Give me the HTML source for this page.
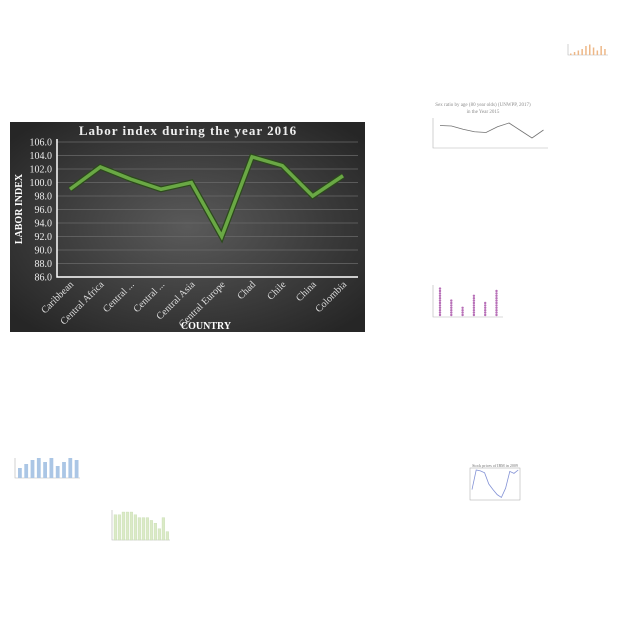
<!DOCTYPE html>
<html><head><meta charset="utf-8"><style>
html,body{margin:0;padding:0;background:#fff;width:640px;height:640px;overflow:hidden}
svg{display:block}
text{font-family:"Liberation Serif",serif}
</style></head><body>
<svg id="s" width="640" height="640" viewBox="0 0 640 640">
<defs>
<radialGradient id="bg" cx="50%" cy="50%" r="65%">
<stop offset="0" stop-color="#5a5a5a"/><stop offset="1" stop-color="#262626"/>
</radialGradient>
</defs>
<rect x="10" y="122" width="355" height="210" fill="url(#bg)"/>
<text x="188" y="135" text-anchor="middle" fill="#eee" font-size="13" font-weight="bold" letter-spacing="1">Labor index during the year 2016</text>
<text transform="translate(22,209) rotate(-90)" text-anchor="middle" fill="#fff" font-size="10" font-weight="bold">LABOR INDEX</text>
<text x="206" y="329" text-anchor="middle" fill="#fff" font-size="10" font-weight="bold">COUNTRY</text>
<g id="grid"></g><g id="main"></g><g id="thumbs" opacity="0.75"></g>
</svg>
<script>
const categories=["Caribbean","Central Africa","Central ...","Central ...","Central Asia","Central Europe","Chad","Chile","China","Colombia"];
const laborIndex=[99.0,102.3,100.5,99.0,100.0,92.0,103.8,102.5,98.0,101.0];
const yTicks=[86,88,90,92,94,96,98,100,102,104,106];

const NS="http://www.w3.org/2000/svg";
function mk(p,tag,a){const e=document.createElementNS(NS,tag);for(const k in a)e.setAttribute(k,a[k]);p.appendChild(e);return e;}
const X0=57,X1=358,Y0=277,Y1=142;
const yS=v=>Y0-(v-86)/(106-86)*(Y0-Y1);
const xS=i=>70+i*(343-70)/(categories.length-1);
const grid=document.getElementById('grid'),main=document.getElementById('main');
yTicks.forEach(t=>{
  if(t>86){const l=mk(grid,'line',{x1:X0,x2:X1,y1:yS(t),y2:yS(t),stroke:'#6a6a6a','stroke-width':0.8});
  
  }
  const tx=mk(grid,'text',{x:52,y:yS(t)+3.5,'text-anchor':'end',fill:'#eee','font-size':'10'});
  tx.textContent=t.toFixed(1);
  
  
});
let ax=mk(grid,'polyline',{points:`${X0},${Y1-3} ${X0},${Y0} ${X1},${Y0}`,fill:'none',stroke:'#fff','stroke-width':1.5});


categories.forEach((c,i)=>{
  const tx=mk(grid,'text',{transform:`translate(${xS(i)+4},${Y0+8}) rotate(-45)`,'text-anchor':'end',fill:'#ddd','font-size':'10'});
  tx.textContent=c;
  
  
});
const pts=laborIndex.map((v,i)=>xS(i)+','+yS(v)).join(' ');
let sh=mk(main,'polyline',{points:pts,fill:'none',stroke:'#2c4a1c','stroke-width':6,'stroke-linejoin':'miter'});


let ln=mk(main,'polyline',{points:pts,fill:'none',stroke:'#6aa845','stroke-width':3.5,'stroke-linejoin':'miter'});



// thumbnails
const th=document.getElementById('thumbs');
const sexRatio=[90,88,75,65,62,85,100,70,40,72];
const dotCounts=[12,7,4,9,6,11];
const blueBars=[5,7,9,10,8,10,6,8,10,9];
const greenBars=[9,9,10,10,10,9,8,8,8,7,6,4,8,3];
const orangeBars=[1,2,3,4,6,7,5,3,6,4];
const stockVals=[0.3,1.0,0.97,0.9,0.5,0.3,0.12,0.02,0.35,0.95,0.88,1.0];

function thumbFrame(x,y,w,h,name){const g=mk(th,'polyline',{points:`${x},${y} ${x},${y+h} ${x+w},${y+h}`,fill:'none',stroke:'#999','stroke-width':0.6});

}
// sex ratio line
let t1=mk(th,'text',{x:483,y:106,'text-anchor':'middle','font-size':'5',fill:'#666'});t1.textContent='Sex ratio by age (80 year olds) (UNWPP, 2017)';


let t1b=mk(th,'text',{x:483,y:113,'text-anchor':'middle','font-size':'5',fill:'#666'});t1b.textContent='in the Year 2015';


thumbFrame(433,118,115,30,'sex-ratio-axes');
let sp=mk(th,'polyline',{points:sexRatio.map((v,i)=>(440+i*11.5)+','+(148-v/120*30)).join(' '),fill:'none',stroke:'#444','stroke-width':0.8});


// purple dots
thumbFrame(433,285,70,32,'dot-plot-axes');
dotCounts.forEach((n,i)=>{for(let k=0;k<n;k++){const c=mk(th,'circle',{cx:440+i*11.3,cy:315-k*2.4,r:1.2,fill:'#a040a0'});

}});
// blue bars
thumbFrame(15,458,65,20,'blue-bar-axes');
blueBars.forEach((v,i)=>{const r=mk(th,'rect',{x:18+i*6.3,y:478-v*2,width:3.8,height:v*2,fill:'#8fb4dd'});

});
// green bars
thumbFrame(112,510,58,30,'green-bar-axes');
greenBars.forEach((v,i)=>{const r=mk(th,'rect',{x:114+i*4,y:540-v*2.8,width:2.8,height:v*2.8,fill:'#cfe3b4',stroke:'#a9c98a','stroke-width':0.3});

});
// orange bars
thumbFrame(568,44,40,11,'orange-bar-axes');
orangeBars.forEach((v,i)=>{const r=mk(th,'rect',{x:570+i*3.8,y:55-v*1.5,width:1.5,height:v*1.5,fill:'#e8a060'});

});
// stock line
let t2=mk(th,'text',{x:495,y:467,'text-anchor':'middle','font-size':'4',fill:'#444'});t2.textContent='Stock prices of IBM in 2009';


let sb=mk(th,'rect',{x:470,y:468,width:50,height:32,fill:'none',stroke:'#888','stroke-width':0.5});


let sl=mk(th,'polyline',{points:stockVals.map((v,i)=>(472+i*4.2)+','+(498-v*28)).join(' '),fill:'none',stroke:'#5a6ec8','stroke-width':0.8});


</script>
</body></html>
